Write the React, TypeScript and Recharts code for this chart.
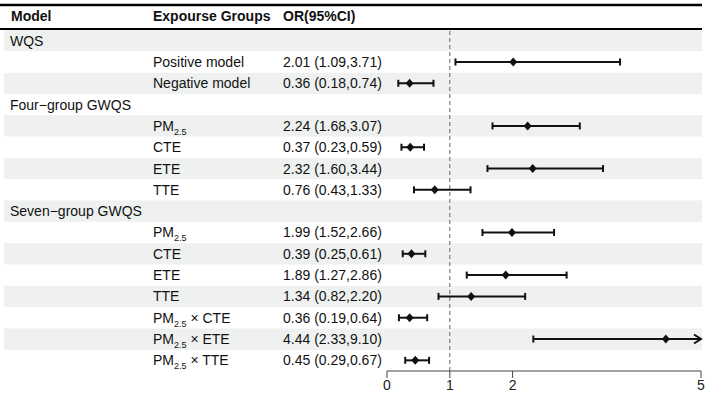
import { ScatterChart, Scatter, XAxis, YAxis, ReferenceLine, ReferenceArea } from 'recharts'

// models and how many exposure groups sit under each
const modelNames = ['WQS', 'Four−group GWQS', 'Seven−group GWQS']
const groupSizes = [2, 4, 7]

const exposureGroups = [
  'Positive model',
  'Negative model',
  'PM2.5',
  'CTE',
  'ETE',
  'TTE',
  'PM2.5',
  'CTE',
  'ETE',
  'TTE',
  'PM2.5 × CTE',
  'PM2.5 × ETE',
  'PM2.5 × TTE',
]
const orValues = [2.01, 0.36, 2.24, 0.37, 2.32, 0.76, 1.99, 0.39, 1.89, 1.34, 0.36, 4.44, 0.45]
const ciLower = [1.09, 0.18, 1.68, 0.23, 1.6, 0.43, 1.52, 0.25, 1.27, 0.82, 0.19, 2.33, 0.29]
const ciUpper = [3.71, 0.74, 3.07, 0.59, 3.44, 1.33, 2.66, 0.61, 2.86, 2.2, 0.64, 9.1, 0.67]
const xTicks = [0, 1, 2, 5]

const WIDTH = 708
const HEIGHT = 395
const PLOT_LEFT = 387
const PLOT_RIGHT = 701
const PLOT_TOP = 30
const AXIS_H = 24
const X_MAX = 5
const TABLE_LEFT = 4
const TABLE_RIGHT = 702
const COL_MODEL = 10
const COL_EXPOSURE = 153
const COL_OR = 283
const FONT = '"Liberation Sans", Arial, Helvetica, sans-serif'
const BAND = '#eef1f0'

type Row = {
  row: number
  model?: string
  exposure?: string
  or?: number
  lo?: number
  hi?: number
}

const rows: Row[] = []
let k = 0
modelNames.forEach((model, g) => {
  rows.push({ row: rows.length, model })
  for (let i = 0; i < groupSizes[g]; i++, k++) {
    rows.push({
      row: rows.length,
      exposure: exposureGroups[k],
      or: orValues[k],
      lo: ciLower[k],
      hi: ciUpper[k],
    })
  }
})
const estimates = rows.filter((r) => r.or !== undefined)

// pixel -> x value, used to stretch the row bands under the text columns
const pxToValue = (px: number) => ((px - PLOT_LEFT) / (PLOT_RIGHT - PLOT_LEFT)) * X_MAX

const renderExposure = (label: string) => {
  if (!label.startsWith('PM2.5')) return label
  const rest = label.slice(5)
  return [
    <tspan key="pm">PM</tspan>,
    <tspan key="sub" fontSize={9} dy={4}>
      2.5
    </tspan>,
    rest ? (
      <tspan key="rest" dy={-4}>
        {rest}
      </tspan>
    ) : null,
  ]
}

const fmtCi = (r: Row) => `${r.or!.toFixed(2)} (${r.lo!.toFixed(2)},${r.hi!.toFixed(2)})`

const RowTick = (props: any) => {
  const { y, payload } = props
  const r = rows[payload.value]
  if (!r) return null
  const base = y + 5
  return (
    <g fontFamily={FONT} fontSize={14} fill="#111" style={{ whiteSpace: 'pre' }}>
      {r.model && (
        <text x={COL_MODEL} y={base}>
          {r.model}
        </text>
      )}
      {r.exposure && (
        <text x={COL_EXPOSURE} y={base}>
          {renderExposure(r.exposure)}
        </text>
      )}
      {r.or !== undefined && (
        <text x={COL_OR} y={base}>
          {fmtCi(r)}
        </text>
      )}
    </g>
  )
}

const ciShape = (p: any, arrow: boolean) => {
  const { x1, y1, x2, y2 } = p
  const cap = 3.5
  return (
    <g stroke="#111" strokeWidth={2} fill="none">
      <line x1={x1} y1={y1} x2={x2} y2={y2} />
      <line x1={x1} y1={y1 - cap} x2={x1} y2={y1 + cap} />
      {arrow ? (
        <polyline points={`${x2 - 7},${y2 - 4.5} ${x2},${y2} ${x2 - 7},${y2 + 4.5}`} />
      ) : (
        <line x1={x2} y1={y2 - cap} x2={x2} y2={y2 + cap} />
      )}
    </g>
  )
}

const Diamond = (p: any) => {
  const { cx, cy } = p
  return (
    <polygon
      points={`${cx - 4},${cy} ${cx},${cy - 4.5} ${cx + 4},${cy} ${cx},${cy + 4.5}`}
      fill="#111"
    />
  )
}

export default function App() {
  return (
    <div style={{ position: 'absolute', left: 0, top: 0, width: WIDTH, height: HEIGHT, background: '#fff' }}>
      <svg
        width={WIDTH}
        height={PLOT_TOP}
        style={{ position: 'absolute', left: 0, top: 0 }}
        fontFamily={FONT}
      >
        <line x1={0} x2={TABLE_RIGHT} y1={5} y2={5} stroke="#000" strokeWidth={2.5} />
        <g fontSize={14} fontWeight="bold" fill="#111">
          <text x={COL_MODEL + 1} y={21}>
            Model
          </text>
          <text x={COL_EXPOSURE} y={21}>
            Expourse Groups
          </text>
          <text x={COL_OR} y={21}>
            OR(95%CI)
          </text>
        </g>
        <line x1={0} x2={TABLE_RIGHT} y1={29} y2={29} stroke="#000" strokeWidth={2} />
      </svg>
      <ScatterChart
        width={WIDTH}
        height={HEIGHT}
        margin={{ top: PLOT_TOP, right: WIDTH - PLOT_RIGHT, bottom: 0, left: 0 }}
      >
        {rows
          .filter((r) => r.row % 2 === 0)
          .map((r) => (
            <ReferenceArea
              key={`band-${r.row}`}
              x1={pxToValue(TABLE_LEFT)}
              x2={pxToValue(TABLE_RIGHT)}
              y1={r.row - 0.5}
              y2={r.row + 0.5}
              fill={BAND}
              fillOpacity={1}
              stroke="none"
              ifOverflow="visible"
            />
          ))}
        <XAxis
          type="number"
          dataKey="or"
          domain={[0, X_MAX]}
          ticks={xTicks}
          interval={0}
          allowDataOverflow
          height={AXIS_H}
          axisLine={{ stroke: '#444' }}
          tickLine={{ stroke: '#444' }}
          tickSize={7}
          tick={{ fontSize: 14, fill: '#222', fontFamily: FONT }}
        />
        <YAxis
          type="number"
          dataKey="row"
          domain={[-0.5, rows.length - 0.5]}
          reversed
          ticks={rows.map((r) => r.row)}
          interval={0}
          width={PLOT_LEFT}
          axisLine={false}
          tickLine={false}
          tick={RowTick}
        />
        <ReferenceLine x={1} stroke="#666" strokeDasharray="4 3" />
        {estimates.map((r) => {
          const arrow = r.hi! > X_MAX
          return (
            <ReferenceLine
              key={`ci-${r.row}`}
              segment={[
                { x: r.lo, y: r.row },
                { x: Math.min(r.hi!, X_MAX), y: r.row },
              ]}
              ifOverflow="visible"
              shape={(p: any) => ciShape(p, arrow)}
            />
          )
        })}
        <Scatter data={estimates} shape={Diamond} isAnimationActive={false} />
      </ScatterChart>
    </div>
  )
}
